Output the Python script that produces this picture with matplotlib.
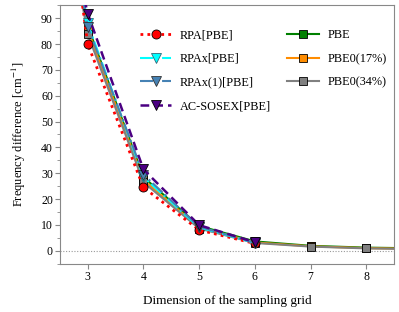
import matplotlib
matplotlib.use("Agg")
import matplotlib.pyplot as plt

plt.rcParams['font.family'] = ['Liberation Serif', 'DejaVu Serif']
plt.rcParams['mathtext.fontset'] = 'stix'

x_rpa = [2, 3, 4, 5, 6]
rpa = [240, 80.0, 24.5, 8.0, 2.8]
rpax = [215, 88.0, 28.5, 9.0, 3.0]
rpax1 = [210, 86.7, 29.5, 9.3, 3.1]
sosex = [185, 91.8, 31.5, 9.9, 3.3]

x_dft = [2, 3, 4, 5, 6, 7, 8, 9]
pbe = [210, 87.0, 28.5, 9.6, 3.6, 1.9, 1.2, 0.9]
pbe0_17 = [210, 85.5, 27.3, 9.0, 3.2, 1.7, 1.0, 0.7]
pbe0_34 = [205, 83.8, 26.5, 8.6, 3.0, 1.6, 0.9, 0.6]

x_ticks = [3, 4, 5, 6, 7, 8]
y_ticks = [0, 10, 20, 30, 40, 50, 60, 70, 80, 90]

fig = plt.figure(figsize=(3.99, 3.12), dpi=100)
ax = fig.add_axes([0.150, 0.155, 0.838, 0.828])

ax.axhline(0, color='#999999', ls=(0, (1, 1.5)), lw=0.8, zorder=0)

ms = 6.5
ax.plot(x_rpa, rpa, ls=(0, (1, 1.5)), color='red', lw=2, marker='o', ms=ms, mfc='red', mec='black', mew=0.6, label='RPA[PBE]', zorder=3)
ax.plot(x_rpa, rpax, ls='-.', color='cyan', lw=1.5, marker='v', ms=ms, mfc='cyan', mec='#336677', mew=0.6, label='RPAx[PBE]', zorder=3)
ax.plot(x_rpa, rpax1, ls='-.', color='#4682b4', lw=1.5, marker='v', ms=ms, mfc='#4682b4', mec='#333333', mew=0.6, label='RPAx(1)[PBE]', zorder=3)
ax.plot(x_rpa, sosex, ls=(0, (3.5, 2)), color='#4b0082', lw=1.8, marker='v', ms=ms, mfc='#4b0082', mec='black', mew=0.6, label='AC-SOSEX[PBE]', zorder=3)
ax.plot(x_dft, pbe, ls='-', color='green', lw=1.5, marker='s', ms=5.5, mfc='green', mec='black', mew=0.6, label='PBE', zorder=2)
ax.plot(x_dft, pbe0_17, ls='-', color='darkorange', lw=1.5, marker='s', ms=5.5, mfc='darkorange', mec='black', mew=0.6, label='PBE0(17%)', zorder=2)
ax.plot(x_dft, pbe0_34, ls='-', color='gray', lw=1.5, marker='s', ms=5.5, mfc='gray', mec='black', mew=0.6, label='PBE0(34%)', zorder=2)

ax.set_xlim(2.5, 8.5)
ax.set_ylim(-5, 95)
ax.set_xticks(x_ticks)
ax.set_yticks(y_ticks)
ax.set_yticks(range(-5, 96, 5), minor=True)

for s in ax.spines.values():
    s.set_color('#888888')
ax.tick_params(axis='both', which='both', direction='out', color='#888888', labelsize=8.5, pad=1.5)
ax.tick_params(which='major', length=3.5)
ax.tick_params(which='minor', length=2)

ax.set_xlabel('Dimension of the sampling grid', fontsize=9.5, labelpad=9)
ax.set_ylabel('Frequency difference [cm$^{-1}$]', fontsize=9, labelpad=9)

ax.legend(ncol=2, frameon=False, fontsize=8.8, loc='upper right', bbox_to_anchor=(1.01, 0.95),
          handlelength=2.6, columnspacing=1.3, labelspacing=0.95, handletextpad=0.7)

fig.savefig('out.png', dpi=100)
